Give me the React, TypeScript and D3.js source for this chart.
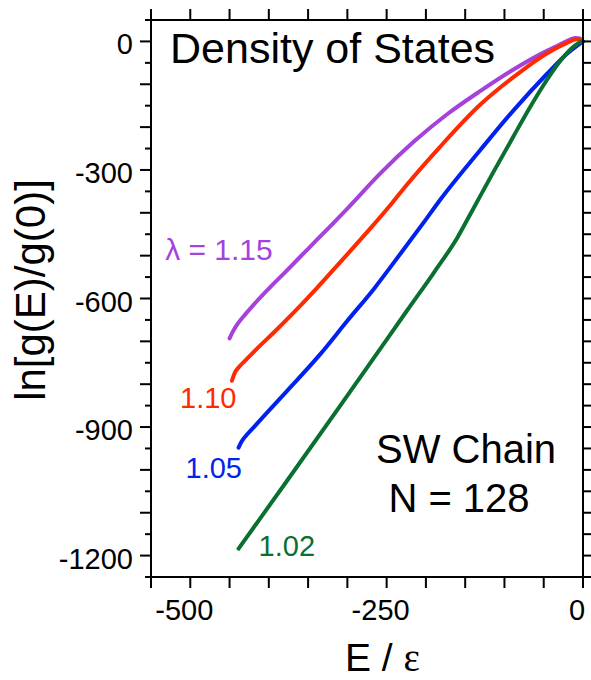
import React from "react";
import * as d3 from "d3";

// ---- data ----
const energy115 = [-450, -446, -440, -430, -420, -400, -380, -350, -320, -300, -258, -216, -173, -131, -89, -46, -30, -18, -10, -4, 0];
const lnG115 = [-693, -678, -660, -637, -616, -577, -540, -484, -428, -390, -308, -235, -170, -116, -66, -22, -8, 3, 8, 7, 0];

const energy110 = [-447, -444, -438, -430, -415, -394, -370, -340, -309, -271, -243, -224, -182, -131, -89, -46, -21, -8, 0];
const lnG110 = [-792, -776, -760, -745, -717, -680, -636, -578, -515, -437, -377, -334, -246, -148, -84, -28, -4, 5, 0];

const energy105 = [-438.5, -435, -428, -419, -377, -335, -300, -266, -231, -203, -182, -131, -89, -46, -21, 0];
const lnG105 = [-948, -935, -918, -900, -816, -731, -652, -577, -492, -423, -370, -254, -162, -76, -30, 0];

const energy102 = [-438.5, -377, -309, -266, -224, -190, -160, -139, -115, -89, -65, -46, -30, -15, -5, 0];
const lnG102 = [-1184, -1026, -850, -738, -628, -540, -458, -388, -308, -223, -146, -90, -48, -17, -3, 0];

const seriesNames = ["λ = 1.15", "1.10", "1.05", "1.02"];
const seriesColors = ["#A542DC", "#FF2A00", "#0022EE", "#0A7030"];

const xLabelTicks = [-500, -250, 0];
const yLabelTicks = [0, -300, -600, -900, -1200];

const W = 591;
const H = 680;
const M = { left: 151, right: 583, top: 20, bottom: 577 };

export default function App() {
  const x = d3.scaleLinear().domain([-550, 0]).range([M.left, M.right]);
  const y = d3.scaleLinear().domain([-1250, 50]).range([M.bottom, M.top]);

  const series = [
    { e: energy115, v: lnG115 },
    { e: energy110, v: lnG110 },
    { e: energy105, v: lnG105 },
    { e: energy102, v: lnG102 },
  ];

  const line = d3
    .line<[number, number]>()
    .x((d) => x(d[0]))
    .y((d) => y(d[1]))
    .curve(d3.curveMonotoneX);

  const xMinor = d3.range(-550, 0.1, 50);
  const yMinor = d3.range(-1250, 50.1, 50);

  const sans = "'Liberation Sans', Arial, sans-serif";

  // label anchors (data-space positions of the curve labels)
  const labelPos = [
    { e: -532, v: -510 },
    { e: -513, v: -855 },
    { e: -506, v: -1020 },
    { e: -413, v: -1200 },
  ];

  return (
    <svg
      width={W}
      height={H}
      style={{ position: "absolute", left: 0, top: 0, background: "#fff" }}
      fontFamily={sans}
    >
      <rect x={0} y={0} width={W} height={H} fill="#fff" />
      {/* curves */}
      {series.map((s, i) => (
        <path
          key={i}
          d={line(s.e.map((e, j) => [e, s.v[j]] as [number, number])) || ""}
          fill="none"
          stroke={seriesColors[i]}
          strokeWidth={4}
          strokeLinecap="round"
          strokeLinejoin="round"
        />
      ))}

      {/* frame */}
      <rect
        x={M.left}
        y={M.top}
        width={M.right - M.left}
        height={M.bottom - M.top}
        fill="none"
        stroke="#000"
        strokeWidth={2}
      />

      {/* x ticks */}
      {xMinor.map((t) => (
        <g key={"xt" + t} stroke="#000" strokeWidth={2}>
          <line x1={x(t)} x2={x(t)} y1={M.bottom} y2={M.bottom + 11} />
          <line x1={x(t)} x2={x(t)} y1={M.top} y2={M.top - 11} />
        </g>
      ))}
      {/* y ticks */}
      {yMinor.map((t) => {
        const major = Math.round(t) % 100 === 0;
        return (
          <g key={"yt" + t} stroke="#000" strokeWidth={2}>
            <line x1={M.left} x2={M.left - (major ? 11 : 6)} y1={y(t)} y2={y(t)} />
            <line x1={M.right} x2={M.right + 10} y1={y(t)} y2={y(t)} />
          </g>
        );
      })}

      {/* x tick labels */}
      {xLabelTicks.map((t) => (
        <text key={"xl" + t} x={x(t) - 6} y={620} fontSize={29} textAnchor="middle" fill="#000">
          {t}
        </text>
      ))}
      {/* y tick labels */}
      {yLabelTicks.map((t) => (
        <text key={"yl" + t} x={133} y={y(t) + 13} fontSize={29} textAnchor="end" fill="#000">
          {t}
        </text>
      ))}

      {/* axis titles */}
      <text x={345} y={671} fontSize={39} fill="#000">
        E /{" "}
        <tspan fontFamily="'Liberation Serif', 'Times New Roman', serif">ε</tspan>
      </text>
      <text
        transform="translate(45,290) rotate(-90)"
        fontSize={42}
        textAnchor="middle"
        fill="#000"
      >
        ln[g(E)/g(0)]
      </text>

      {/* title and annotations */}
      <text x={170} y={63} fontSize={43} fill="#000">
        Density of States
      </text>
      <text x={466} y={463} fontSize={40} textAnchor="middle" fill="#000">
        SW Chain
      </text>
      <text x={459} y={512} fontSize={40} textAnchor="middle" fill="#000">
        N = 128
      </text>

      {/* curve labels */}
      {seriesNames.map((n, i) => (
        <text
          key={"lab" + i}
          x={x(labelPos[i].e)}
          y={y(labelPos[i].v)}
          fontSize={i === 0 ? 30 : 29}
          fill={seriesColors[i]}
        >
          {n}
        </text>
      ))}
    </svg>
  );
}
